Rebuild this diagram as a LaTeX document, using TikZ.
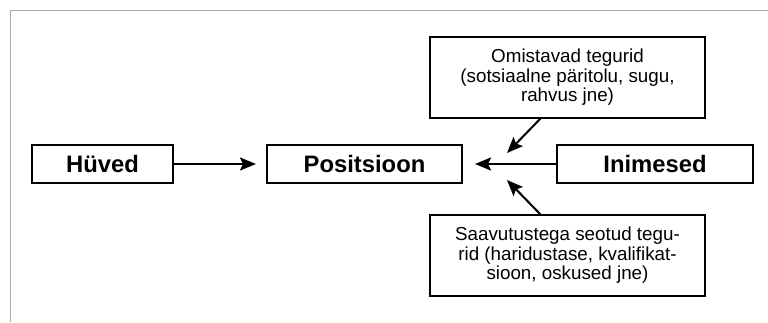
\documentclass[tikz,border=0pt]{standalone}
\usepackage{fontspec}
\setmainfont{Liberation Sans}
\usetikzlibrary{arrows.meta}
\begin{document}
\begin{tikzpicture}[x=1pt,y=-1pt,
  box/.style={draw, line width=2pt, inner sep=0pt, align=center},
  boldtxt/.style={font=\fontsize{23.8}{26}\selectfont\bfseries},
  smalltxt/.style={font=\fontsize{18.8}{19.6}\selectfont},
  arr/.style={line width=2pt, -{Stealth[length=16pt,width=13pt,inset=3pt]}}]
\useasboundingbox (0,0) rectangle (768,322);
\draw[color=black!33, line width=1pt] (768,10) -- (10,10) -- (10,322);
\node[box,boldtxt,minimum width=141pt,minimum height=38pt] (huved) at (102.5,164) {Hüved};
\node[box,boldtxt,minimum width=195pt,minimum height=38pt] (pos) at (364.5,164) {Positsioon};
\node[box,boldtxt,minimum width=196pt,minimum height=38pt] (inim) at (655,164) {Inimesed};
\node[box,smalltxt,minimum width=275pt,minimum height=81pt] (omis) at (567.5,77.5) {Omistavad tegurid\\(sotsiaalne päritolu, sugu,\\rahvus jne)};
\node[box,smalltxt,minimum width=275pt,minimum height=81pt] (saav) at (567.5,255.5) {Saavutustega seotud tegu-\\rid (haridustase, kvalifikat-\\sioon, oskused jne)};
\coordinate (t0) at (256,164);
\coordinate (t1) at (475,164);
\coordinate (t2) at (507,153);
\coordinate (t3) at (507,180);
\coordinate (s2) at (541,118);
\coordinate (s3) at (541,215);
\draw[arr] (huved.east) -- (t0);
\draw[arr] (inim.west) -- (t1);
\draw[arr] (s2) -- (t2);
\draw[arr] (s3) -- (t3);
\end{tikzpicture}
\end{document}
